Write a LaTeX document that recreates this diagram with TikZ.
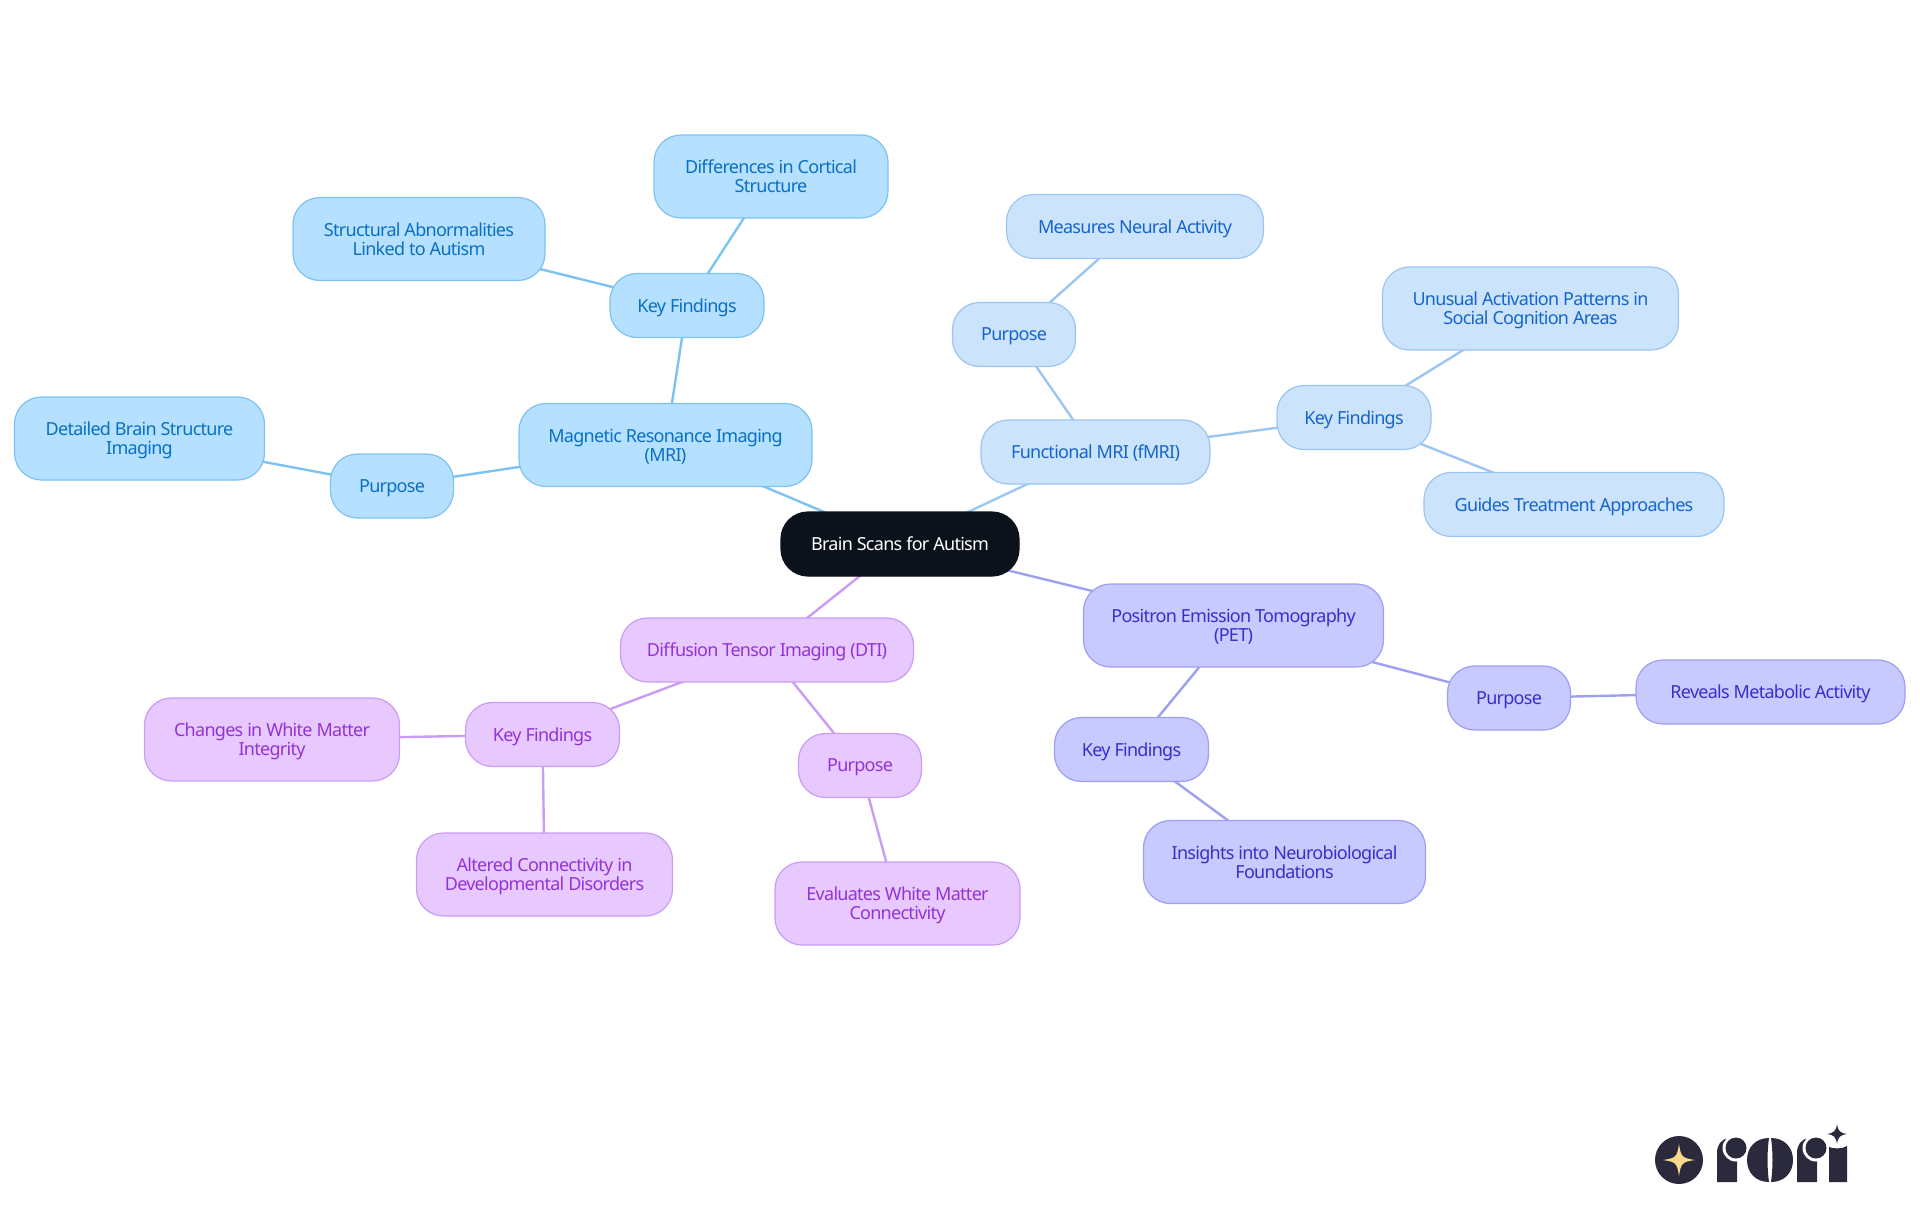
\documentclass[tikz,border=0pt]{standalone}
\usepackage{fontspec}
\setmainfont[LetterSpace=-4]{Noto Sans}
\usetikzlibrary{backgrounds}
\definecolor{cRootNen}{HTML}{0B121B}
\definecolor{cMriNen}{HTML}{B5E0FF}
\definecolor{cMriVien}{HTML}{7CC3F2}
\definecolor{cMriChu}{HTML}{0A70C2}
\definecolor{cFmriNen}{HTML}{CCE3FC}
\definecolor{cFmriVien}{HTML}{9CC6F2}
\definecolor{cFmriChu}{HTML}{1565CC}
\definecolor{cPetNen}{HTML}{C7C9FF}
\definecolor{cPetVien}{HTML}{9D9FF2}
\definecolor{cPetChu}{HTML}{3730C8}
\definecolor{cDtiNen}{HTML}{E7C9FF}
\definecolor{cDtiVien}{HTML}{CA9CF2}
\definecolor{cDtiChu}{HTML}{9333D6}
\definecolor{cLogo}{HTML}{2A2A3C}
\definecolor{cLogoSao}{HTML}{FBD98B}
\def\Lpurpose{Purpose}
\def\Lkey{Key Findings}

\begin{document}
\begin{tikzpicture}[
  x=1pt, y=-1pt,
  boxroot/.style={
    draw=cRootNen, fill=cRootNen, text=white, rounded corners=27pt, line width=1.2pt,
    align=center, inner sep=0pt, minimum height=64pt, text depth=0pt,
    font=\fontsize{18}{19}\selectfont
  },
  boxmri/.style={boxroot, draw=cMriVien, fill=cMriNen, text=cMriChu},
  boxfmri/.style={boxroot, draw=cFmriVien, fill=cFmriNen, text=cFmriChu},
  boxpet/.style={boxroot, draw=cPetVien, fill=cPetNen, text=cPetChu},
  boxdti/.style={boxroot, draw=cDtiVien, fill=cDtiNen, text=cDtiChu},
  tall/.style={minimum height=83pt},
  wiremri/.style={draw=cMriVien, line width=2.4pt},
  wirefmri/.style={draw=cFmriVien, line width=2.4pt},
  wirepet/.style={draw=cPetVien, line width=2.4pt},
  wiredti/.style={draw=cDtiVien, line width=2.4pt}
]
\useasboundingbox (0,0) rectangle (1920,1215);

% root
\node[boxroot, minimum width=238pt] (root) at (900,544) {Brain Scans for Autism};

% MRI
\node[boxmri, tall, minimum width=293pt] (mri) at (665.5,445) {Magnetic Resonance Imaging\\(MRI)};
\node[boxmri, minimum width=123pt] (mriPurpose) at (392,486) {\Lpurpose};
\node[boxmri, tall, minimum width=250pt] (mriDetail) at (139.5,438.5) {Detailed Brain Structure\\Imaging};
\node[boxmri, minimum width=154pt] (mriKey) at (687,305.5) {\Lkey};
\node[boxmri, tall, minimum width=252pt] (mriStruct) at (419,239) {Structural Abnormalities\\Linked to Autism};
\node[boxmri, tall, minimum width=234pt] (mriCortex) at (771,176.5) {Differences in Cortical\\Structure};

% fMRI
\node[boxfmri, minimum width=229pt] (fmri) at (1095.5,452) {Functional MRI (fMRI)};
\node[boxfmri, minimum width=123pt] (fmriPurpose) at (1014,334.5) {\Lpurpose};
\node[boxfmri, minimum width=257pt] (fmriNeural) at (1135,226.5) {Measures Neural Activity};
\node[boxfmri, minimum width=154pt] (fmriKey) at (1354,417.5) {\Lkey};
\node[boxfmri, tall, minimum width=296pt] (fmriSocial) at (1530.5,308.5) {Unusual Activation Patterns in\\Social Cognition Areas};
\node[boxfmri, minimum width=300pt] (fmriGuide) at (1574,504.5) {Guides Treatment Approaches};

% PET
\node[boxpet, tall, minimum width=300pt] (pet) at (1233.5,625.5) {Positron Emission Tomography\\(PET)};
\node[boxpet, minimum width=123pt] (petPurpose) at (1509,698) {\Lpurpose};
\node[boxpet, minimum width=269pt] (petMeta) at (1770.5,692) {Reveals Metabolic Activity};
\node[boxpet, minimum width=154pt] (petKey) at (1131.5,749.5) {\Lkey};
\node[boxpet, tall, minimum width=282pt] (petNeuro) at (1284.5,862) {Insights into Neurobiological\\Foundations};

% DTI
\node[boxdti, minimum width=293pt] (dti) at (767,650) {Diffusion Tensor Imaging (DTI)};
\node[boxdti, minimum width=154pt] (dtiKey) at (542.5,734.5) {\Lkey};
\node[boxdti, tall, minimum width=255pt] (dtiWhite) at (272,739.5) {Changes in White Matter\\Integrity};
\node[boxdti, tall, minimum width=256pt] (dtiDev) at (544.5,874.5) {Altered Connectivity in\\Developmental Disorders};
\node[boxdti, minimum width=123pt] (dtiPurpose) at (860,765.5) {\Lpurpose};
\node[boxdti, tall, minimum width=245pt] (dtiConn) at (897.5,903.5) {Evaluates White Matter\\Connectivity};

% wires run centre to centre, under the boxes
\begin{scope}[on background layer]
  \foreach \a/\b in {root/mri, mri/mriPurpose, mriPurpose/mriDetail, mri/mriKey, mriKey/mriStruct, mriKey/mriCortex}
    \draw[wiremri] (\a.center) -- (\b.center);
  \foreach \a/\b in {root/fmri, fmri/fmriPurpose, fmriPurpose/fmriNeural, fmri/fmriKey, fmriKey/fmriSocial, fmriKey/fmriGuide}
    \draw[wirefmri] (\a.center) -- (\b.center);
  \foreach \a/\b in {root/pet, pet/petPurpose, petPurpose/petMeta, pet/petKey, petKey/petNeuro}
    \draw[wirepet] (\a.center) -- (\b.center);
  \foreach \a/\b in {root/dti, dti/dtiKey, dtiKey/dtiWhite, dtiKey/dtiDev, dti/dtiPurpose, dtiPurpose/dtiConn}
    \draw[wiredti] (\a.center) -- (\b.center);
\end{scope}

% logo
\fill[cLogo] (1679,1160) circle (24);
\fill[cLogoSao] (1679,1144) .. controls (1681,1157) and (1682,1158) .. (1695,1160)
  .. controls (1682,1162) and (1681,1163) .. (1679,1176)
  .. controls (1677,1163) and (1676,1162) .. (1663,1160)
  .. controls (1676,1158) and (1677,1157) .. (1679,1144) -- cycle;
% the two r, ball with a white ring over the stem
\foreach \x in {1717,1797} {
  \fill[cLogo] (\x,1182) -- (\x,1153) .. controls (\x,1145) and (\x+4,1139) .. (\x+12,1138)
    -- (\x+20,1150) -- (\x+20,1182) -- cycle;
  \fill[white] (\x+19,1148) circle (13.5);
  \fill[cLogo] (\x+19,1148) circle (10.5);
}
% o
\fill[cLogo] (1769,1138) .. controls (1756,1138) and (1747,1147) .. (1747,1160)
  .. controls (1747,1173) and (1756,1182) .. (1769,1182) .. controls (1767,1168) and (1767,1152) .. (1769,1138) -- cycle;
\fill[cLogo] (1771,1138) .. controls (1784,1138) and (1793,1147) .. (1793,1160)
  .. controls (1793,1173) and (1784,1182) .. (1771,1182) .. controls (1773,1168) and (1773,1152) .. (1771,1138) -- cycle;
% i
\fill[cLogo] (1829,1182) -- (1829,1147) .. controls (1833,1149) and (1843,1149) .. (1847,1146) -- (1847,1182) -- cycle;
\fill[cLogo] (1837,1124) .. controls (1838,1131) and (1840,1133) .. (1847,1134)
  .. controls (1840,1135) and (1838,1137) .. (1837,1144)
  .. controls (1836,1137) and (1834,1135) .. (1827,1134)
  .. controls (1834,1133) and (1836,1131) .. (1837,1124) -- cycle;

\end{tikzpicture}
\end{document}
